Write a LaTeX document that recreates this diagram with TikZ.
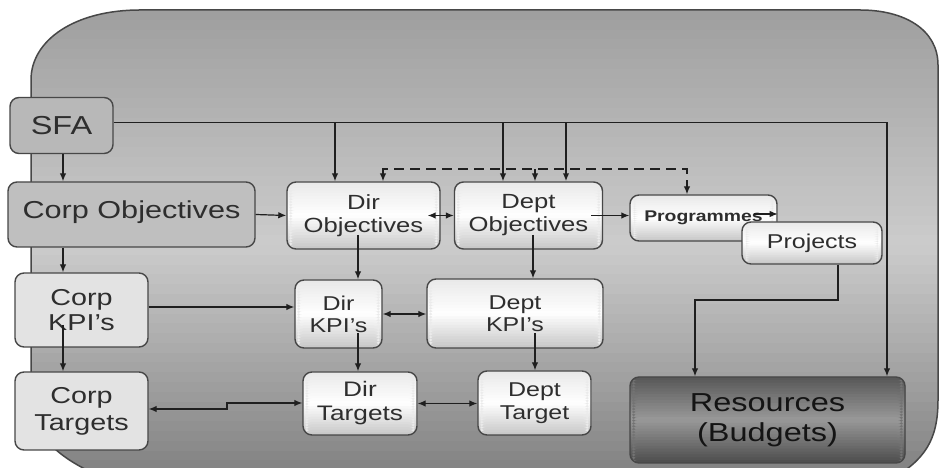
\documentclass[tikz,border=0pt]{standalone}
\usepackage{fontspec}
\setmainfont{Liberation Sans}[FakeStretch=1.25]
\usetikzlibrary{arrows.meta,calc}
\newcommand{\myfs}[2]{\fontsize{#1}{#2}\selectfont}
% manual vertical three-stop gradient inside a path picture (black percentages)
\newcommand{\gradfill}[4]{%
  \path (path picture bounding box.north west) coordinate (gnw)
        (path picture bounding box.south east) coordinate (gse);
  \foreach \i in {1,...,#4}{%
    \pgfmathsetmacro{\ta}{(\i-1)/#4}%
    \pgfmathsetmacro{\tb}{min((\i+0.4)/#4,1)}%
    \pgfmathsetmacro{\tc}{(\i-0.5)/#4}%
    \pgfmathsetmacro{\pc}{\tc<0.5 ? #1+(#2-#1)*2*\tc : #2+(#3-#2)*(2*\tc-1)}%
    \fill[black!\pc] ($(gnw)!\ta!(gnw|-gse)$) rectangle ($(gse|-gnw)!\tb!(gse)$);
  }}
\tikzset{
  x=1pt, y=1pt,
  box/.style={draw=black!72, line width=1.4pt, rounded corners=9pt, inner sep=0pt,
    align=center, text=black!82},
  graybox/.style={box, fill=black!28},
  lightbox/.style={box, fill=black!11},
  whitebox/.style={box, fill=black!8, path picture={\gradfill{9}{0}{22}{24}}},
  darkbox/.style={box, fill=black!55, path picture={\gradfill{66}{40}{70}{30}}, text=black!92},
  conn/.style={draw=black!88, line width=1.2pt},
  arr/.style={conn, -{Latex[length=8pt,width=6.5pt]}},
  darr/.style={conn, {Latex[length=8pt,width=6.5pt]}-{Latex[length=8pt,width=6.5pt]}},
  dashline/.style={dash pattern=on 10pt off 6pt}
}
\begin{document}
\begin{tikzpicture}
\useasboundingbox (0,0) rectangle (940,468);
\fill[white] (0,0) rectangle (940,468);
\clip (0,0) rectangle (940,468);
% background
\path[draw=black!72, line width=1.5pt, fill=black!30, path picture={\gradfill{38}{20}{50}{48}}]
  (31,68) -- (31,388) .. controls (31,428) and (75,458) .. (140,458) -- (860,458)
  .. controls (905,458) and (938,438) .. (938,403) -- (938,68)
  .. controls (938,28) and (925,8) .. (890,-12) -- (110,-12)
  .. controls (70,3) and (31,28) .. (31,68) -- cycle;

% nodes
\node[graybox, minimum width=103pt, minimum height=56pt, font=\myfs{26}{30}] (sfa) at (61.5,342.5) {SFA};
\node[graybox, fill=black!25, minimum width=247pt, minimum height=65pt, font=\myfs{24.5}{28}] (cobj) at (131.5,253.5) {\raisebox{9pt}{Corp Objectives}};
\node[lightbox, minimum width=133pt, minimum height=74pt, font=\myfs{23}{25}] (ckpi) at (81.5,158) {Corp\\KPI's};
\node[lightbox, minimum width=133pt, minimum height=78pt, font=\myfs{23}{27}] (ctgt) at (81.5,57) {Corp\\Targets};
\node[whitebox, minimum width=153pt, minimum height=67pt, font=\myfs{20.5}{23}] (dobj) at (363.5,252.5) {Dir\\Objectives};
\node[whitebox, minimum width=148pt, minimum height=67pt, font=\myfs{20.5}{23}] (pobj) at (528.5,252.5) {Dept\\Objectives};
\node[whitebox, minimum width=147pt, minimum height=46pt, font=\myfs{15.5}{18}\bfseries] (prog) at (703.5,250) {\raisebox{4pt}{Programmes}};
\node[whitebox, minimum width=140pt, minimum height=42pt, font=\myfs{20}{22}] (proj) at (812,225) {Projects};
\node[whitebox, minimum width=87pt, minimum height=68pt, font=\myfs{20}{22}] (dkpi) at (338.5,154) {Dir\\KPI's};
\node[whitebox, minimum width=176pt, minimum height=69pt, font=\myfs{20}{22}] (pkpi) at (515,154.5) {Dept\\KPI's};
\node[whitebox, minimum width=114pt, minimum height=63pt, font=\myfs{21}{24}] (dtgt) at (360,64.5) {Dir\\Targets};
\node[whitebox, minimum width=113pt, minimum height=64pt, font=\myfs{20}{23}] (ptgt) at (534.5,65) {Dept\\Target};
\node[darkbox, minimum width=275pt, minimum height=86pt, font=\myfs{26}{30}] (res) at (767.5,48) {Resources\\(Budgets)};

% helper coordinates
\coordinate (cx) at (63,0);
\coordinate (t1) at (335,345.5);
\coordinate (t2) at (503,345.5);
\coordinate (t3) at (566,345.5);
\coordinate (te) at (887,345.5);
\coordinate (d1) at (383,299);
\coordinate (d2) at (687,299);
\coordinate (d3) at (535,299);
\coordinate (k1) at (63,143);
\coordinate (j1) at (227,59);
\coordinate (j2) at (227,65);
\coordinate (pj) at (838,168);
\coordinate (pk) at (695,168);
\coordinate (v1) at (358,233);
\coordinate (v2) at (533,233);
\coordinate (v3) at (358,135);
\coordinate (v4) at (535,135);

% connectors
\draw[arr] (sfa.east |- te) -- (te) -- (te |- res.north);
\draw[arr] (t1) -- (t1 |- dobj.north);
\draw[arr] (t2) -- (t2 |- pobj.north);
\draw[arr, line width=1.6pt] (t3) -- (t3 |- pobj.north);
\draw[darr, dashline] (d1 |- dobj.north) -- (d1) -- (d2) -- (d2 |- prog.north);
\draw[arr, dashline] (d3) -- (d3 |- pobj.north);
\draw[arr] (cx |- sfa.south) -- (cx |- cobj.north);
\draw[arr] (cobj.east) -- (dobj.west);
\draw[darr] ([xshift=-13pt]dobj.east) -- (pobj.west);
\draw[arr] ([xshift=-12pt]pobj.east) -- (prog.west |- pobj.east);
\draw[arr] ([xshift=-24pt,yshift=4pt]prog.east) -- ([yshift=4pt]prog.east);
\draw[arr] (cx |- cobj.south) -- (cx |- ckpi.north);
\draw[arr] (k1) -- (cx |- ctgt.north);
\draw[arr] ([yshift=3pt]ckpi.east) -- ([yshift=3pt]ckpi.east -| dkpi.west);
\draw[arr] (v1) -- (v1 |- dkpi.north);
\draw[arr] (v2) -- (v2 |- pkpi.north);
\draw[darr] (dkpi.east) -- (dkpi.east -| pkpi.west);
\draw[arr] (v3) -- (v3 |- dtgt.north);
\draw[arr] (v4) -- (v4 |- ptgt.north);
\draw[darr] (ctgt.east |- j1) -- (j1) -- (j2) -- (dtgt.west |- j2);
\draw[darr] (dtgt.east) -- (dtgt.east -| ptgt.west);
\draw[arr] (pj |- proj.south) -- (pj) -- (pk) -- (pk |- res.north);
\end{tikzpicture}
\end{document}
